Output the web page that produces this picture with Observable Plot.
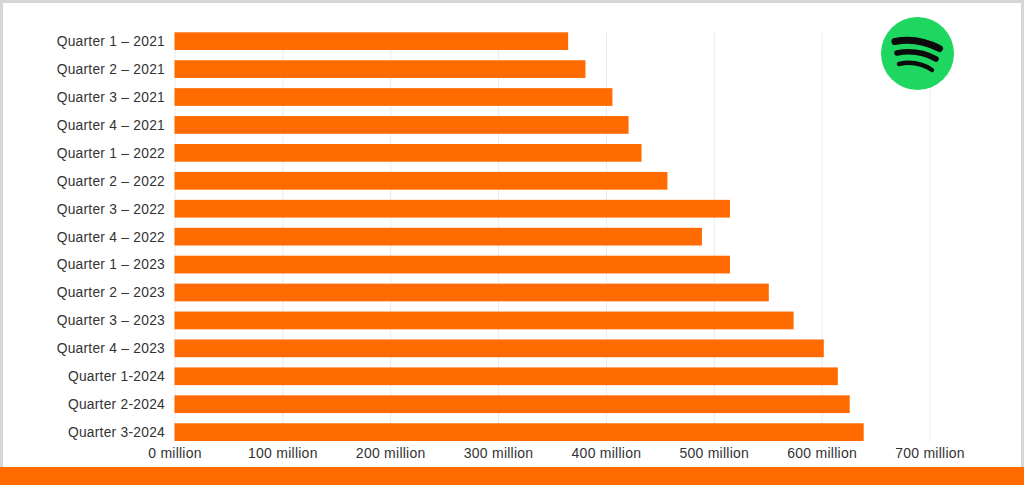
<!DOCTYPE html>
<html>
<head>
<meta charset="utf-8">
<script src="https://cdn.jsdelivr.net/npm/d3@7"></script>
<script src="https://cdn.jsdelivr.net/npm/@observablehq/plot@0.6"></script>
<style>
html,body{margin:0;padding:0;width:1024px;height:485px;overflow:hidden;background:#d6d6d6;}
#card{position:absolute;left:3px;top:3px;width:1018px;height:482px;background:#fff;}
#band{position:absolute;left:0;top:467px;width:1024px;height:18px;background:#ff6b00;}
#chart{position:absolute;left:0;top:0;}
#chart svg{background:transparent;}
#chart svg text{letter-spacing:0.25px;}
#logo{position:absolute;left:880px;top:16px;}
</style>
</head>
<body>
<div id="card"></div>
<div id="band"></div>
<div id="chart"></div>
<svg id="logo" width="75" height="75" viewBox="0 0 75 75" role="img" aria-label="Spotify logo">
  <circle cx="37.5" cy="37.5" r="36.5" fill="#1ed760"/>
  <g fill="none" stroke="#0b0b0b" stroke-linecap="round">
    <path d="M15 25.5 Q37 21 59.5 32.5" stroke-width="7"/>
    <path d="M17 37 Q38 33 56 43" stroke-width="5.5"/>
    <path d="M19 48 Q37 44 52 54" stroke-width="4.5"/>
  </g>
</svg>
<script>
const quarters = [
  "Quarter 1 – 2021","Quarter 2 – 2021","Quarter 3 – 2021","Quarter 4 – 2021",
  "Quarter 1 – 2022","Quarter 2 – 2022","Quarter 3 – 2022","Quarter 4 – 2022",
  "Quarter 1 – 2023","Quarter 2 – 2023","Quarter 3 – 2023","Quarter 4 – 2023",
  "Quarter 1-2024","Quarter 2-2024","Quarter 3-2024"
];
const users = [365,381,406,421,433,457,515,489,515,551,574,602,615,626,639];
const xTicks = [0,100,200,300,400,500,600,700];
const table = quarters.map((q,i)=>({q,v:users[i]}));
const orange = "#ff6b00";

const chart = Plot.plot({
  width:1024,
  height:485,
  marginLeft:174.5,
  marginRight:94.5,
  marginTop:32.3,
  marginBottom:44,
  style:{background:"transparent",fontFamily:"'Liberation Sans',Arial,sans-serif",fontSize:"14px",color:"#333"},
  x:{domain:[0,700],label:null},
  y:{domain:quarters,label:null,paddingInner:0.365,paddingOuter:0,align:0.5,round:false},
  marks:[
    Plot.gridX(xTicks,{stroke:"#ebebeb",strokeOpacity:1}),
    Plot.barX(table,{x:"v",y:"q",fill:orange}),
    Plot.axisY({tickSize:0,tickPadding:10,label:null,fill:"#333",fontSize:13.8}),
    Plot.axisX(xTicks,{tickSize:0,tickPadding:7,label:null,fill:"#333",fontSize:14,tickFormat:d=>`${d} million`})
  ]
});
document.getElementById("chart").appendChild(chart);
</script>
</body>
</html>
